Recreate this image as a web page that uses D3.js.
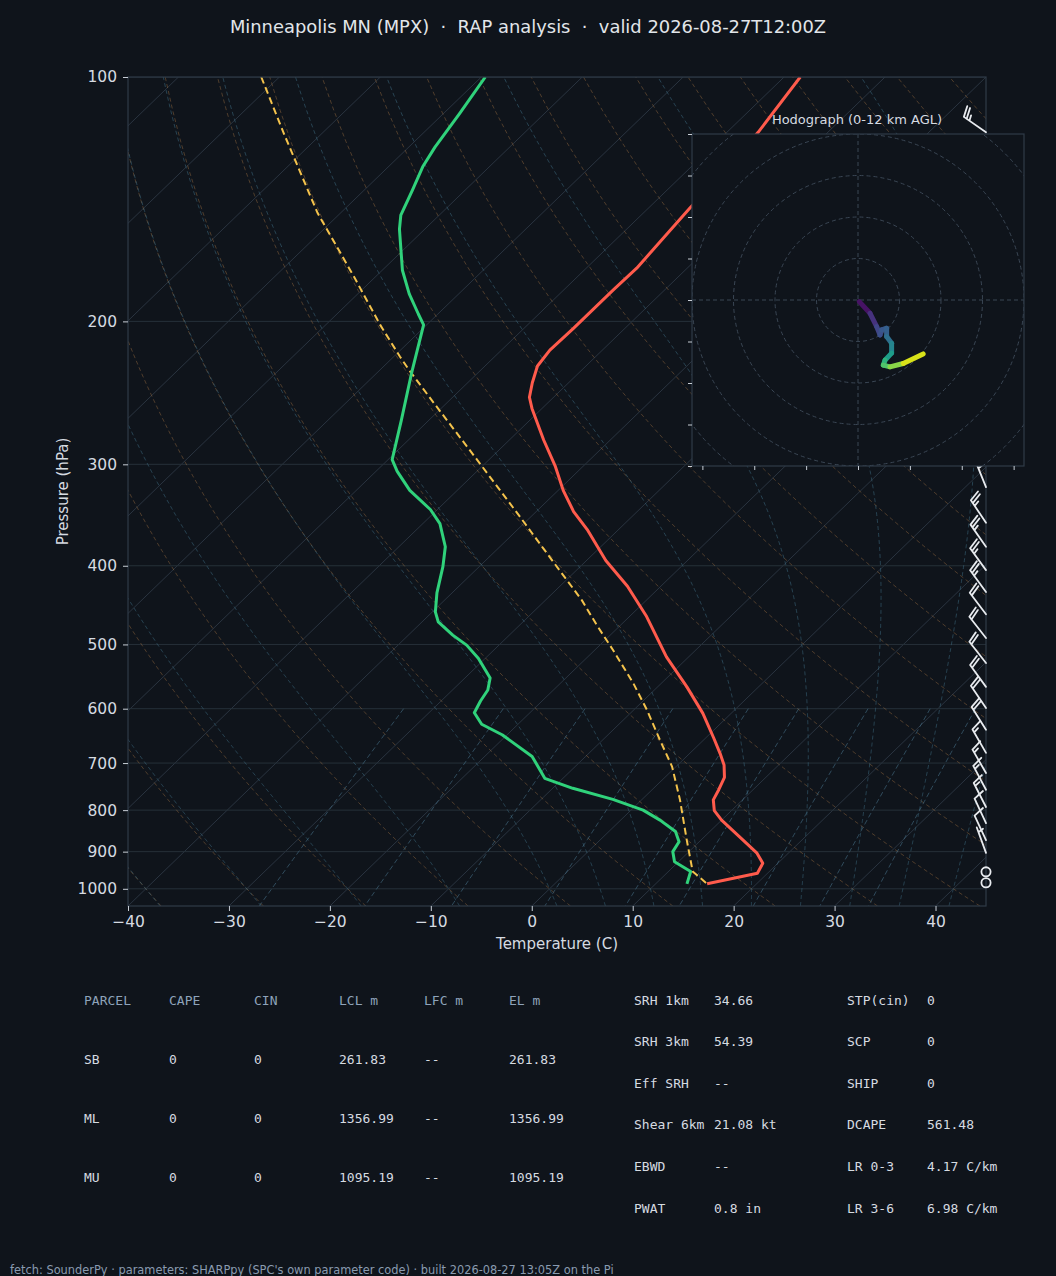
<!DOCTYPE html>
<html lang="en">
<head>
<meta charset="utf-8">
<title>Skew-T MPX</title>
<script src="https://cdn.jsdelivr.net/npm/d3@7"></script>
<style>
  html, body { margin: 0; padding: 0; background: #0f141b; }
  svg { display: block; }
  text { white-space: pre; }
</style>
</head>
<body>
<script>
// ---- sounding ----
var tempP = [100, 117, 130, 145, 172, 183, 204, 217, 227, 238, 248, 256, 280, 302, 323, 343, 361, 394, 424, 462, 518, 564, 608, 652, 681, 704, 729, 755, 777, 801, 823, 863, 904, 930, 957, 986];
var tempC = [-58.4, -56.9, -56.3, -55.9, -55.0, -55.1, -55.1, -55.2, -54.8, -53.6, -52.4, -51.0, -46.6, -42.7, -39.5, -36.3, -33.1, -28.1, -23.3, -18.3, -12.2, -7.1, -2.8, 0.8, 3.0, 4.6, 5.9, 6.6, 7.1, 8.3, 10.0, 13.5, 16.9, 18.5, 19.0, 15.1];

var dewP = [100, 111, 122, 129, 138, 148, 154, 173, 185, 196, 202, 232, 265, 296, 306, 323, 341, 355, 379, 401, 432, 456, 469, 487, 501, 520, 550, 569, 587, 607, 627, 646, 687, 731, 752, 776, 800, 823, 850, 875, 900, 926, 952, 986];
var dewC = [-89.6, -88.4, -87.4, -86.6, -85.2, -83.8, -82.5, -78.0, -74.9, -71.9, -70.3, -66.5, -62.7, -59.6, -57.9, -54.7, -50.7, -48.3, -45.4, -43.6, -41.5, -39.7, -38.4, -35.6, -33.2, -30.7, -27.5, -26.5, -26.1, -25.5, -23.6, -20.5, -15.3, -11.8, -8.0, -2.9, 1.2, 3.9, 6.6, 8.0, 8.4, 9.6, 12.2, 13.1];

var parcelP = [100, 118, 147, 176, 202, 221, 230, 252, 296, 348, 405, 441, 473, 508, 558, 602, 656, 707, 777, 871, 952, 986];
var parcelC = [-111.8, -103.5, -92.3, -82.2, -74.6, -69.4, -67.0, -61.3, -51.2, -41.1, -31.7, -26.4, -22.4, -18.2, -12.8, -8.7, -4.3, -0.4, 3.8, 8.6, 12.4, 15.1];

var barbP   = [117, 320, 354, 379, 405, 431, 459, 491, 527, 564, 599, 637, 680, 720, 755, 793, 830, 871, 903, 953, 983];
var barbDir = [305, 338, 326, 325, 324, 324, 323, 322, 322, 324, 326, 328, 330, 330, 332, 333, 335, 335, 340, 0, 0];
var barbSpd = [25, 25, 25, 25, 25, 25, 20, 20, 20, 20, 20, 20, 15, 15, 15, 15, 10, 10, 5, 0, 0];

var hodoU = [0.3, 2.9, 4.5, 5.3, 5.7, 6.9, 6.9, 8.1, 8.1, 6.5, 6.1, 7.7, 10.9, 15.7];
var hodoV = [-0.4, -3.2, -6.4, -8.4, -7.2, -6.8, -8.8, -10.4, -12.8, -14.5, -15.7, -16.1, -15.3, -13.0];
var hodoZ = [0, 1.2, 2.2, 2.8, 3.1, 3.4, 3.9, 4.8, 6.0, 7.3, 8.2, 9.2, 10.5, 12.0];

var pTicks = [100, 200, 300, 400, 500, 600, 700, 800, 900, 1000];
var tTicks = [-40, -30, -20, -10, 0, 10, 20, 30, 40];

// ---- parameter tables ----
var parcelHead = ["PARCEL", "CAPE", "CIN", "LCL m", "LFC m", "EL m"];
var parcelName = ["SB", "ML", "MU"];
var capeVals = ["0", "0", "0"];
var cinVals = ["0", "0", "0"];
var lclVals = ["261.83", "1356.99", "1095.19"];
var lfcVals = ["--", "--", "--"];
var elVals = ["261.83", "1356.99", "1095.19"];

var statNameA = ["SRH 1km", "SRH 3km", "Eff SRH", "Shear 6km", "EBWD", "PWAT"];
var statValA = ["34.66", "54.39", "--", "21.08 kt", "--", "0.8 in"];
var statNameB = ["STP(cin)", "SCP", "SHIP", "DCAPE", "LR 0-3", "LR 3-6"];
var statValB = ["0", "0", "0", "561.48", "4.17 C/km", "6.98 C/km"];

// ---- reference line sets (skew-T background) ----
var dryT0 = d3.range(-40, 246, 10);
var moistT0 = d3.range(-40, 0, 10).concat(d3.range(0, 96, 5));
var mixW = [0.0004, 0.001, 0.002, 0.004, 0.007, 0.01, 0.016, 0.024, 0.032];

var W = 1056, H = 1276;
var bg = "#0f141b", frame = "#2f3b48", txt = "#d6dbe1";
var pxL = 128, pxR = 986, pxT = 77, pxB = 906;

var svg = d3.select("body").append("svg").attr("width", W).attr("height", H);
svg.append("rect").attr("width", W).attr("height", H).attr("fill", bg);

var yScale = d3.scaleLog().domain([1050, 100]).range([pxB, pxT]);
var xScale = d3.scaleLinear().domain([-40, 45]).range([pxL, pxR]);
var skew = (pxR - pxL) / (pxB - pxT);
function px(t, p) { return xScale(t) + (pxB - yScale(p)) * skew; }

var line = d3.line().x(function(d) { return px(d[1], d[0]); }).y(function(d) { return yScale(d[0]); });

svg.append("clipPath").attr("id", "plotclip")
   .append("rect").attr("x", pxL).attr("y", pxT).attr("width", pxR - pxL).attr("height", pxB - pxT);
var plot = svg.append("g").attr("clip-path", "url(#plotclip)");

// thermo helpers
var Rd = 287.04749, Cp = 1004.6662, Lv = 2.50084e6, eps = 0.6219569, kappa = Rd / Cp;
function satVap(tK) { var tc = tK - 273.15; return 6.112 * Math.exp(17.67 * tc / (tc + 243.5)); }
function dTdp(p, t) {
  var e = satVap(t);
  var rs = eps * e / (p - e);
  return (Rd * t + Lv * rs) / (Cp + Lv * Lv * rs * eps / (Rd * t * t)) / p;
}
function rk4(p, t, h) {
  var k1 = dTdp(p, t), k2 = dTdp(p + h / 2, t + h * k1 / 2),
      k3 = dTdp(p + h / 2, t + h * k2 / 2), k4 = dTdp(p + h, t + h * k3);
  return t + h * (k1 + 2 * k2 + 2 * k3 + k4) / 6;
}
function moistLine(t0) {
  var up = [], down = [], t = t0 + 273.15, i;
  up.push([1000, t]);
  for (i = 1; i <= 450; i++) {
    var p = 1000 - 2 * (i - 1);
    if (satVap(t) > 0.5 * p) break;
    t = rk4(p, t, -2);
    if (!isFinite(t)) break;
    up.push([p - 2, t]);
  }
  t = t0 + 273.15;
  for (i = 0; i < 25; i++) {
    var q = 1000 + 2 * i;
    if (satVap(t) > 0.5 * q) break;
    t = rk4(q, t, 2);
    down.push([q + 2, t]);
  }
  return down.reverse().concat(up).map(function(d) { return [d[0], d[1] - 273.15]; });
}
var pGrid = d3.range(0, 96).map(function(i) { return 1050 - i * 10; });

// isotherms + isobars
d3.range(-130, 41, 10).forEach(function(t) {
  plot.append("line")
    .attr("x1", px(t, 1050)).attr("y1", yScale(1050))
    .attr("x2", px(t, 100)).attr("y2", yScale(100))
    .attr("stroke", "#2a3440").attr("stroke-width", 1);
});
pTicks.forEach(function(p) {
  plot.append("line").attr("x1", pxL).attr("x2", pxR)
    .attr("y1", yScale(p)).attr("y2", yScale(p))
    .attr("stroke", "#263039").attr("stroke-width", 1);
});

// dry adiabats
dryT0.forEach(function(t0) {
  var pts = pGrid.map(function(p) { return [p, (t0 + 273.15) * Math.pow(p / 1000, kappa) - 273.15]; });
  plot.append("path").attr("d", line(pts)).attr("fill", "none")
    .attr("stroke", "#b07a45").attr("stroke-opacity", 0.4)
    .attr("stroke-width", 1).attr("stroke-dasharray", "4,3");
});
// moist adiabats
moistT0.forEach(function(t0) {
  plot.append("path").attr("d", line(moistLine(t0))).attr("fill", "none")
    .attr("stroke", "#3d6a80").attr("stroke-opacity", 0.55)
    .attr("stroke-width", 1).attr("stroke-dasharray", "4,3");
});
// mixing ratio lines
mixW.forEach(function(w) {
  var pts = d3.range(600, 1051, 10).map(function(p) {
    var e = p * w / (eps + w), l = Math.log(e / 6.112);
    return [p, 243.5 * l / (17.67 - l)];
  });
  plot.append("path").attr("d", line(pts)).attr("fill", "none")
    .attr("stroke", "#4a7892").attr("stroke-opacity", 0.55)
    .attr("stroke-width", 1).attr("stroke-dasharray", "5,3");
});

// profiles
function zipPT(ps, ts) { return ps.map(function(p, i) { return [p, ts[i]]; }); }
plot.append("path").attr("d", line(zipPT(parcelP, parcelC))).attr("fill", "none")
  .attr("stroke", "#f4c34c").attr("stroke-width", 2).attr("stroke-dasharray", "7,4");
plot.append("path").attr("d", line(zipPT(tempP, tempC))).attr("fill", "none")
  .attr("stroke", "#ff5b4c").attr("stroke-width", 3).attr("stroke-linejoin", "round");
plot.append("path").attr("d", line(zipPT(dewP, dewC))).attr("fill", "none")
  .attr("stroke", "#30d27b").attr("stroke-width", 3).attr("stroke-linejoin", "round");

// frame
svg.append("rect").attr("x", pxL).attr("y", pxT).attr("width", pxR - pxL).attr("height", pxB - pxT)
  .attr("fill", "none").attr("stroke", frame).attr("stroke-width", 1.2);

// axes
var xAxis = d3.axisBottom(xScale).tickValues(tTicks).tickSize(5).tickPadding(5);
var gx = svg.append("g").attr("transform", "translate(0," + pxB + ")").call(xAxis);
var yAxis = d3.axisLeft(yScale).tickValues(pTicks).tickFormat(d3.format("d")).tickSize(5).tickPadding(6);
var gy = svg.append("g").attr("transform", "translate(" + pxL + ",0)").call(yAxis);
[gx, gy].forEach(function(g) {
  g.select(".domain").remove();
  g.selectAll("line").attr("stroke", "#c8ced6");
  g.selectAll("text").attr("fill", txt).attr("font-size", 15.5).attr("font-family", "DejaVu Sans");
});

svg.append("text").attr("x", (pxL + pxR) / 2).attr("y", 949).attr("text-anchor", "middle")
  .attr("fill", txt).attr("font-size", 15).attr("font-family", "DejaVu Sans").text("Temperature (C)");
svg.append("text").attr("transform", "translate(68," + (pxT + pxB) / 2 + ") rotate(-90)")
  .attr("text-anchor", "middle").attr("fill", txt).attr("font-size", 15)
  .attr("font-family", "DejaVu Sans").text("Pressure (hPa)");

svg.append("text").attr("x", W / 2).attr("y", 33).attr("text-anchor", "middle")
  .attr("fill", "#e2e6ea").attr("font-size", 17.9).attr("font-family", "DejaVu Sans")
  .text("Minneapolis MN (MPX)  \u00b7  RAP analysis  \u00b7  valid 2026-08-27T12:00Z");

// wind barbs on the right spine
var L = 27, barbCol = "#e8ebef";
var gb = svg.append("g").attr("stroke", barbCol).attr("stroke-width", 1.8).attr("fill", "none")
  .attr("stroke-linecap", "round").attr("stroke-linejoin", "round");
barbP.forEach(function(p, i) {
  var bx = pxR, by = yScale(p), spd = 5 * Math.round(barbSpd[i] / 5);
  if (spd === 0) {
    gb.append("circle").attr("cx", bx).attr("cy", by).attr("r", 4.6);
    return;
  }
  var a = barbDir[i] * Math.PI / 180;
  var dx = Math.sin(a), dy = -Math.cos(a);   // toward where the wind comes from
  var nx = -dy, ny = dx;                      // feather side
  var flags = Math.floor(spd / 50), full = Math.floor((spd % 50) / 10), half = (spd % 10) >= 5;
  var path = "M" + [bx, by] + "L" + [bx + dx * L, by + dy * L];
  var off = L, sp = 0.125 * L, fh = 0.4 * L, fw = 0.25 * L;
  function at(o) { return [bx + dx * o, by + dy * o]; }
  for (var f = 0; f < flags; f++) {
    var s = at(off), e = at(off - fw);
    path += "M" + s + "L" + [s[0] + nx * fh - dx * fw / 2, s[1] + ny * fh - dy * fw / 2] + "L" + e;
    off -= fw + sp;
  }
  for (var b = 0; b < full; b++) {
    var q = at(off);
    path += "M" + q + "L" + [q[0] + nx * fh + dx * fw / 2, q[1] + ny * fh + dy * fw / 2];
    off -= sp;
  }
  if (half) {
    if (off === L) off -= 1.5 * sp;
    var h = at(off);
    path += "M" + h + "L" + [h[0] + nx * fh / 2 + dx * fw / 4, h[1] + ny * fh / 2 + dy * fw / 4];
  }
  gb.append("path").attr("d", path);
});

// hodograph inset
var hx0 = 692, hy0 = 134, hs = 332;
var hu = d3.scaleLinear().domain([-40, 40]).range([hx0, hx0 + hs]);
var hv = d3.scaleLinear().domain([-40, 40]).range([hy0 + hs, hy0]);
svg.append("text").attr("x", hx0 + hs / 2 - 1).attr("y", 124).attr("text-anchor", "middle")
  .attr("fill", txt).attr("font-size", 13).attr("font-family", "DejaVu Sans").text("Hodograph (0-12 km AGL)");
svg.append("clipPath").attr("id", "hodoclip")
  .append("rect").attr("x", hx0).attr("y", hy0).attr("width", hs).attr("height", hs);
svg.append("rect").attr("x", hx0).attr("y", hy0).attr("width", hs).attr("height", hs).attr("fill", bg);
var hg = svg.append("g").attr("clip-path", "url(#hodoclip)");
[10, 20, 30, 40, 50, 60].forEach(function(r) {
  hg.append("circle").attr("cx", hu(0)).attr("cy", hv(0)).attr("r", hu(r) - hu(0))
    .attr("fill", "none").attr("stroke", "#3a4654").attr("stroke-width", 1).attr("stroke-dasharray", "4,3");
});
hg.append("line").attr("x1", hx0).attr("x2", hx0 + hs).attr("y1", hv(0)).attr("y2", hv(0))
  .attr("stroke", "#3a4654").attr("stroke-dasharray", "4,3");
hg.append("line").attr("y1", hy0).attr("y2", hy0 + hs).attr("x1", hu(0)).attr("x2", hu(0))
  .attr("stroke", "#3a4654").attr("stroke-dasharray", "4,3");
var zMax = d3.max(hodoZ);
for (var k = 0; k < hodoU.length - 1; k++) {
  hg.append("line")
    .attr("x1", hu(hodoU[k])).attr("y1", hv(hodoV[k]))
    .attr("x2", hu(hodoU[k + 1])).attr("y2", hv(hodoV[k + 1]))
    .attr("stroke", d3.interpolateViridis((hodoZ[k] + hodoZ[k + 1]) / 2 / zMax))
    .attr("stroke-width", 5).attr("stroke-linecap", "round");
}
svg.append("rect").attr("x", hx0).attr("y", hy0).attr("width", hs).attr("height", hs)
  .attr("fill", "none").attr("stroke", frame).attr("stroke-width", 1.2);
var hxAxis = d3.axisBottom(hu).tickValues([-37.5, -25, -12.5, 0, 12.5, 25, 37.5]).tickSize(4).tickFormat("");
var hyAxis = d3.axisLeft(hv).tickValues(d3.range(-40, 41, 10)).tickSize(4).tickFormat("");
var ghx = svg.append("g").attr("transform", "translate(0," + (hy0 + hs) + ")").call(hxAxis);
var ghy = svg.append("g").attr("transform", "translate(" + hx0 + ",0)").call(hyAxis);
[ghx, ghy].forEach(function(g) {
  g.select(".domain").remove();
  g.selectAll("line").attr("stroke", "#c8ced6");
});

// parcel table
var tcolX = [84, 169, 254, 339, 424, 509];
var mono = "DejaVu Sans Mono";
parcelHead.forEach(function(h, i) {
  svg.append("text").attr("x", tcolX[i]).attr("y", 1004.5).attr("fill", "#8ea3ba")
    .attr("font-size", 13).attr("font-family", mono).text(h);
});
var cols = [parcelName, capeVals, cinVals, lclVals, lfcVals, elVals];
parcelName.forEach(function(n, r) {
  cols.forEach(function(c, i) {
    svg.append("text").attr("x", tcolX[i]).attr("y", 1063.5 + r * 59).attr("fill", txt)
      .attr("font-size", 13).attr("font-family", mono).text(c[r]);
  });
});
// stats table
statNameA.forEach(function(n, r) {
  var y = 1004.5 + r * 41.6;
  [[634, n], [714, statValA[r]], [847, statNameB[r]], [927, statValB[r]]].forEach(function(c) {
    svg.append("text").attr("x", c[0]).attr("y", y).attr("fill", txt)
      .attr("font-size", 13).attr("font-family", mono).text(c[1]);
  });
});

svg.append("text").attr("x", 10).attr("y", 1273.5).attr("fill", "#8a9bb0")
  .attr("font-size", 11.4).attr("font-family", "DejaVu Sans")
  .text("fetch: SounderPy \u00b7 parameters: SHARPpy (SPC's own parameter code) \u00b7 built 2026-08-27 13:05Z on the Pi");
</script>
</body>
</html>
